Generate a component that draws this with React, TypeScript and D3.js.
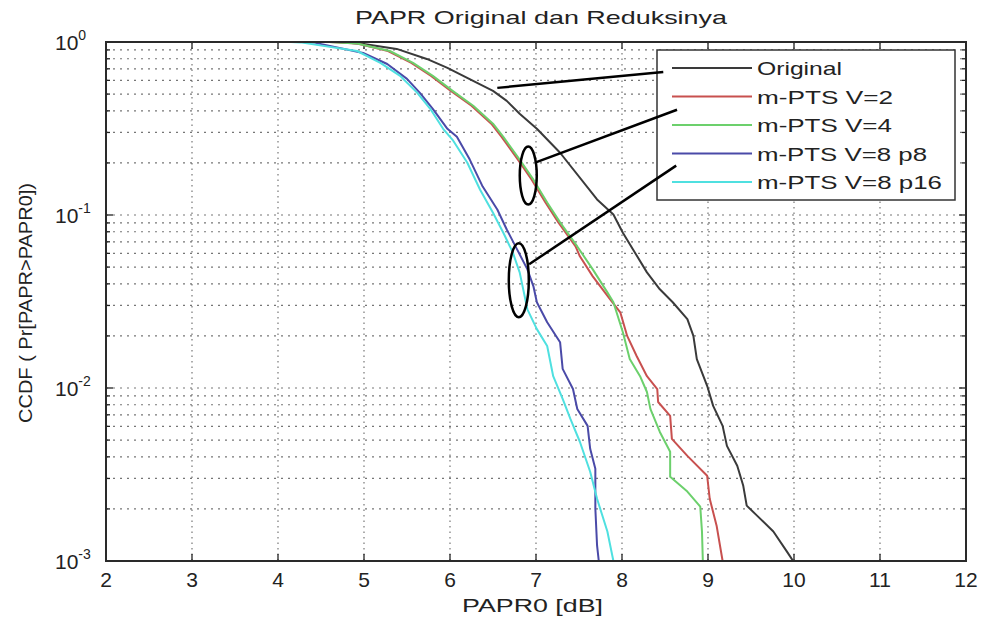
import React from "react";
import * as d3 from "d3";

// PAPR axis values (dB) and CCDF values
const origX = [4.7, 5.0, 5.38, 5.73, 5.97, 6.2, 6.5, 6.66, 6.81, 7.01, 7.28, 7.71, 7.9, 8.01, 8.13, 8.29, 8.44, 8.59, 8.76, 8.83, 8.87, 8.99, 9.06, 9.17, 9.22, 9.34, 9.41, 9.45, 9.57, 9.76, 9.92, 9.99];
const origY = [1.0, 0.975, 0.912, 0.798, 0.708, 0.62, 0.522, 0.457, 0.385, 0.315, 0.229, 0.123, 0.1007, 0.079, 0.063, 0.0466, 0.0372, 0.0313, 0.025, 0.02, 0.0147, 0.0103, 0.00788, 0.00604, 0.00463, 0.00355, 0.00272, 0.00209, 0.00183, 0.00148, 0.00113, 0.001];

const v2X = [4.6, 4.92, 5.28, 5.55, 5.78, 6.01, 6.25, 6.48, 6.6, 6.79, 6.95, 7.11, 7.26, 7.46, 7.51, 7.66, 7.86, 7.98, 8.06, 8.17, 8.29, 8.41, 8.42, 8.56, 8.58, 8.76, 8.99, 9.02, 9.1, 9.17];
const v2Y = [1.0, 0.98, 0.887, 0.757, 0.637, 0.522, 0.428, 0.337, 0.283, 0.209, 0.16, 0.118, 0.0906, 0.0658, 0.0577, 0.0442, 0.0326, 0.0274, 0.02, 0.0153, 0.0117, 0.00986, 0.0083, 0.0069, 0.00508, 0.00405, 0.00311, 0.00229, 0.0016, 0.001];

const v4X = [4.6, 4.92, 5.3, 5.57, 5.8, 6.03, 6.27, 6.5, 6.62, 6.81, 6.97, 7.13, 7.28, 7.48, 7.66, 7.83, 7.9, 8.01, 8.09, 8.21, 8.29, 8.33, 8.44, 8.56, 8.56, 8.76, 8.91, 8.93, 8.94];
const v4Y = [1.0, 0.98, 0.887, 0.757, 0.637, 0.522, 0.428, 0.337, 0.283, 0.209, 0.16, 0.118, 0.0906, 0.0658, 0.0485, 0.0357, 0.0313, 0.021, 0.0147, 0.0117, 0.00948, 0.00757, 0.00557, 0.00428, 0.00307, 0.00252, 0.00206, 0.00148, 0.001];

const p8X = [4.3, 4.41, 4.99, 5.27, 5.5, 5.65, 5.8, 5.97, 6.08, 6.23, 6.38, 6.55, 6.66, 6.78, 6.9, 6.97, 7.01, 7.13, 7.28, 7.31, 7.43, 7.48, 7.6, 7.63, 7.69, 7.69, 7.71, 7.73];
const p8Y = [1.0, 0.995, 0.864, 0.746, 0.612, 0.508, 0.411, 0.315, 0.283, 0.209, 0.146, 0.1076, 0.0825, 0.0633, 0.0485, 0.0387, 0.0313, 0.024, 0.0184, 0.0129, 0.00986, 0.00757, 0.00604, 0.00445, 0.00341, 0.00201, 0.00123, 0.001];

const p16X = [4.15, 4.26, 4.92, 5.19, 5.42, 5.62, 5.77, 5.92, 6.03, 6.2, 6.35, 6.5, 6.62, 6.73, 6.81, 6.9, 7.01, 7.13, 7.2, 7.31, 7.4, 7.51, 7.63, 7.71, 7.83, 7.9];
const p16Y = [1.0, 0.995, 0.887, 0.757, 0.637, 0.508, 0.411, 0.315, 0.272, 0.201, 0.14, 0.103, 0.079, 0.0608, 0.0466, 0.0285, 0.0219, 0.0175, 0.0117, 0.00865, 0.00663, 0.00489, 0.00328, 0.00229, 0.00148, 0.001];

const seriesNames = ["Original", "m-PTS V=2", "m-PTS V=4", "m-PTS V=8 p8", "m-PTS V=8 p16"];
const seriesColors = ["#3a3a3a", "#c8504f", "#6cd06c", "#4a4aa8", "#4fe0e0"];
const legendWidths = [85, 136, 135, 170, 185];

const xTicks = [2, 3, 4, 5, 6, 7, 8, 9, 10, 11, 12];
const yExponents = [0, -1, -2, -3];

// hand-drawn annotations, in data coordinates
const annoLines = [
  [6.55, 0.543, 8.48, 0.671],
  [6.99, 0.201, 8.64, 0.406],
  [6.92, 0.0519, 8.63, 0.193],
];
const annoEllipses = [
  [6.91, 0.169, 8.5, 29],
  [6.8, 0.042, 10, 37],
];

const FONT = "'Liberation Sans', Arial, Helvetica, sans-serif";

export default function App() {
  const W = 981;
  const H = 618;
  const m = { left: 106, right: 966, top: 42, bottom: 561 };

  const x = d3.scaleLinear().domain([2, 12]).range([m.left, m.right]);
  const y = d3.scaleLog().domain([1e-3, 1]).range([m.bottom, m.top]);

  const series = [
    [origX, origY],
    [v2X, v2Y],
    [v4X, v4Y],
    [p8X, p8Y],
    [p16X, p16Y],
  ];

  const line = d3
    .line<[number, number]>()
    .x(d => x(d[0]))
    .y(d => y(d[1]));

  const minorY: number[] = [];
  for (let k = -3; k < 0; k++) {
    for (let j = 1; j <= 9; j++) {
      const v = j * Math.pow(10, k);
      if (v > 1e-3 && v < 1) minorY.push(v);
    }
  }

  const grid = "#555";

  return (
    <div style={{ position: "absolute", left: 0, top: 0, background: "#fff" }}>
      <svg width={W} height={H} style={{ display: "block", fontFamily: FONT }}>
        <rect x={0} y={0} width={W} height={H} fill="#fff" />
        <rect x={m.left} y={m.top} width={m.right - m.left} height={m.bottom - m.top} fill="#fff" />

        {/* grid */}
        {xTicks.slice(1, -1).map(t => (
          <line key={"gx" + t} x1={x(t)} x2={x(t)} y1={m.top} y2={m.bottom}
            stroke={grid} strokeWidth={1.2} strokeDasharray="1.5,4" opacity={0.8} />
        ))}
        {minorY.map(v => (
          <line key={"gy" + v} x1={m.left} x2={m.right} y1={y(v)} y2={y(v)}
            stroke={grid} strokeWidth={1.2} strokeDasharray="2,5" opacity={0.8} />
        ))}

        {/* ticks */}
        {xTicks.map(t => (
          <g key={"tx" + t}>
            <line x1={x(t)} x2={x(t)} y1={m.bottom} y2={m.bottom - 7} stroke="#222" strokeWidth={1.3} />
            <line x1={x(t)} x2={x(t)} y1={m.top} y2={m.top + 7} stroke="#222" strokeWidth={1.3} />
          </g>
        ))}
        {minorY.map(v => {
          const major = Math.abs(Math.log10(v) - Math.round(Math.log10(v))) < 1e-9;
          const len = major ? 7 : 4;
          return (
            <g key={"ty" + v}>
              <line x1={m.left} x2={m.left + len} y1={y(v)} y2={y(v)} stroke="#222" strokeWidth={1.3} />
              <line x1={m.right} x2={m.right - len} y1={y(v)} y2={y(v)} stroke="#222" strokeWidth={1.3} />
            </g>
          );
        })}

        {/* curves */}
        {series.map((s, i) => {
          const pts = s[0].map((v, j) => [v, s[1][j]] as [number, number]);
          return (
            <path key={"s" + i} d={line(pts) || ""} fill="none" stroke={seriesColors[i]}
              strokeWidth={2} strokeLinejoin="round" />
          );
        })}

        {/* axes box */}
        <rect x={m.left} y={m.top} width={m.right - m.left} height={m.bottom - m.top}
          fill="none" stroke="#2a2a2a" strokeWidth={2} />

        {/* x tick labels */}
        {xTicks.map(t => (
          <text key={"lx" + t} x={x(t)} y={587} textAnchor="middle" fontSize={21} fill="#222">
            {t}
          </text>
        ))}
        {/* y tick labels */}
        {yExponents.map(e => (
          <text key={"ly" + e} x={55} y={y(Math.pow(10, e)) + 8} fontSize={21} fill="#222">
            10
            <tspan dy={-10} fontSize={14}>{e === 0 ? "0" : e}</tspan>
          </text>
        ))}

        {/* titles */}
        <text x={355} y={24} fontSize={19} fill="#222" textLength={372} lengthAdjust="spacingAndGlyphs">
          PAPR Original dan Reduksinya
        </text>
        <text x={462} y={612} fontSize={18} fill="#222" textLength={141} lengthAdjust="spacingAndGlyphs">
          PAPR0 [dB]
        </text>
        <text transform="rotate(-90)" x={-303} y={32} textAnchor="middle" fontSize={18} fill="#222"
          textLength={240} lengthAdjust="spacingAndGlyphs">
          CCDF ( Pr[PAPR&gt;PAPR0])
        </text>

        {/* legend */}
        <rect x={657} y={50} width={298} height={150} fill="#fff" stroke="#333" strokeWidth={1.5} />
        {seriesNames.map((n, i) => {
          const cy = 68 + i * 28.5;
          return (
            <g key={"lg" + i}>
              <line x1={672} x2={752} y1={cy} y2={cy} stroke={seriesColors[i]} strokeWidth={2} />
              <text x={757} y={cy + 7} fontSize={19} fill="#222" textLength={legendWidths[i]}
                lengthAdjust="spacingAndGlyphs">
                {n}
              </text>
            </g>
          );
        })}

        {/* annotations */}
        {annoLines.map((a, i) => (
          <line key={"al" + i} x1={x(a[0])} y1={y(a[1])} x2={x(a[2])} y2={y(a[3])}
            stroke="#000" strokeWidth={2.5} />
        ))}
        {annoEllipses.map((a, i) => (
          <ellipse key={"ae" + i} cx={x(a[0])} cy={y(a[1])} rx={a[2]} ry={a[3]}
            fill="none" stroke="#000" strokeWidth={2.5} />
        ))}
      </svg>
    </div>
  );
}
